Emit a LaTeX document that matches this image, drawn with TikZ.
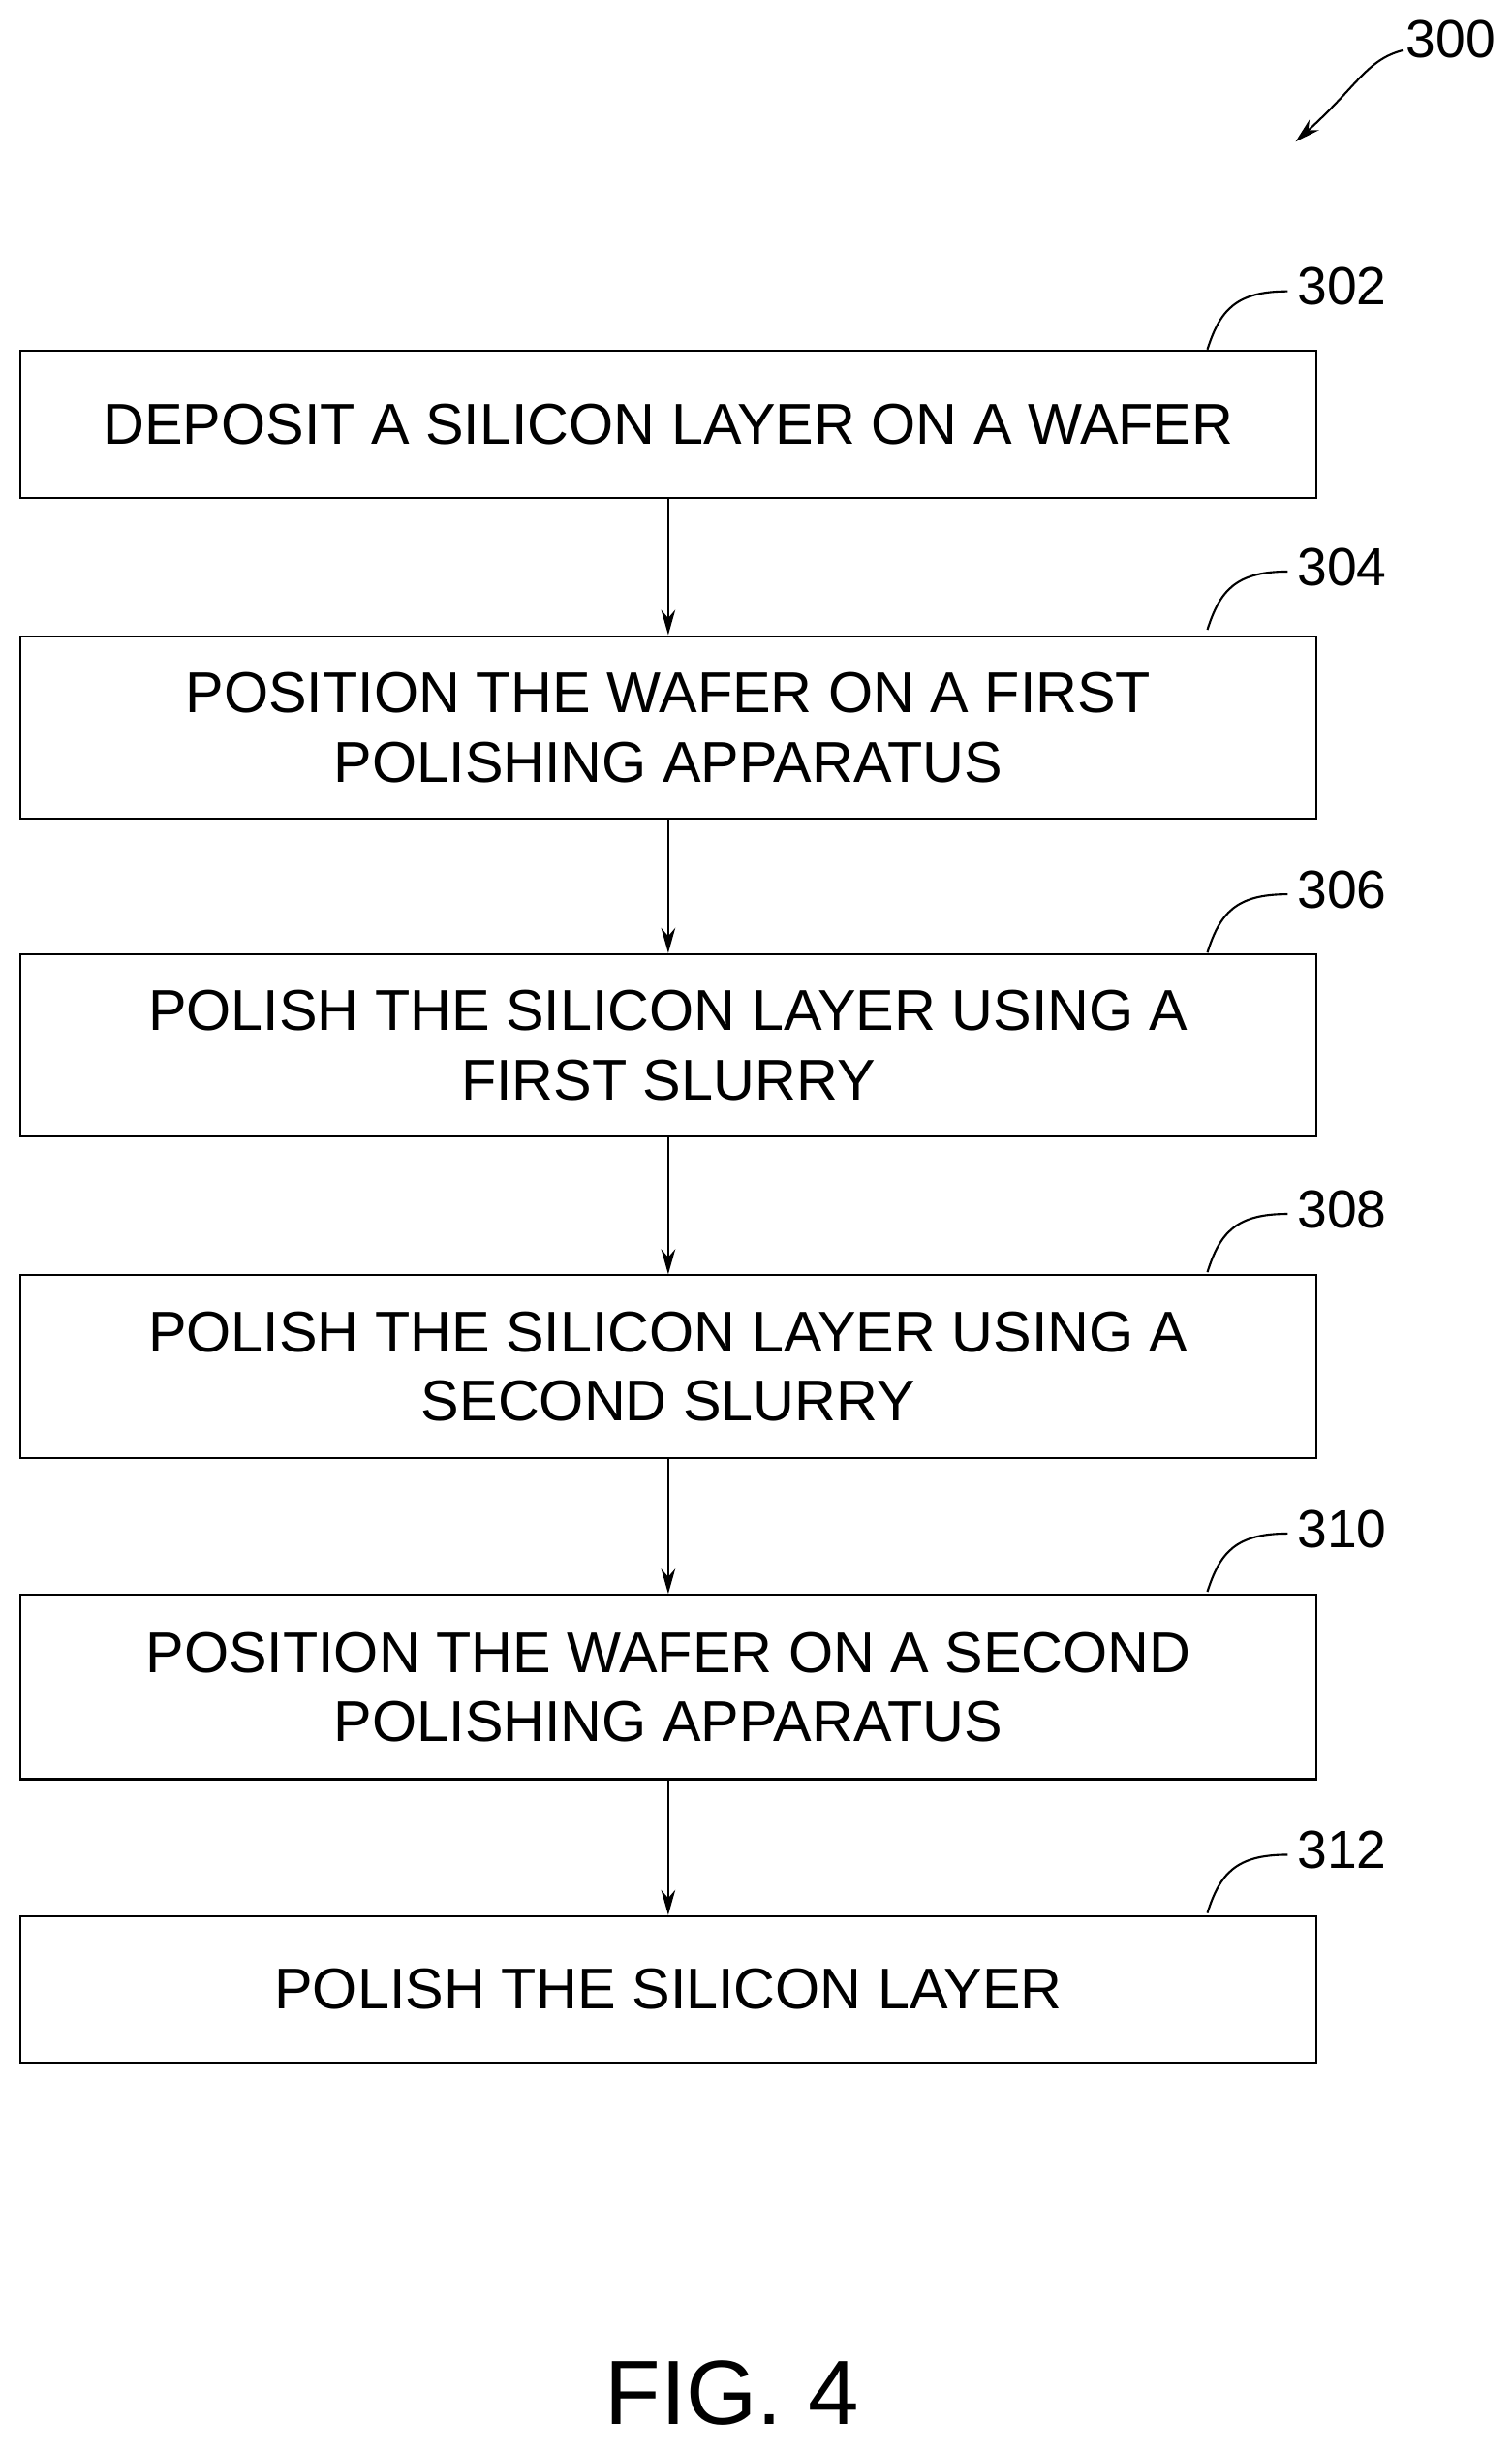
\documentclass[tikz,border=0pt]{standalone}
\usepackage{fontspec}
\setmainfont{Liberation Sans}
\usetikzlibrary{arrows.meta}
\begin{document}
\begin{tikzpicture}[x=1pt,y=-1pt,
  stepbox/.style={draw,line width=1.3pt,minimum width=823pt,align=center,font=\fontsize{36.5}{44}\selectfont,inner sep=0pt},
  flow/.style={line width=1.3pt,-{Stealth[length=16pt,width=9pt]}},
  lead/.style={line width=1.3pt},
  lbl/.style={font=\fontsize{34}{40}\selectfont,anchor=west,inner sep=0pt}]
\useasboundingbox (0,0) rectangle (960,1558);
\node[stepbox,minimum height=93pt] (b1) at (424.5,269.5) {DEPOSIT A SILICON LAYER ON A WAFER};
\node[stepbox,minimum height=116pt] (b2) at (424.5,462) {POSITION THE WAFER ON A FIRST\\POLISHING APPARATUS};
\node[stepbox,minimum height=116pt] (b3) at (424.5,664) {POLISH THE SILICON LAYER USING A\\FIRST SLURRY};
\node[stepbox,minimum height=116pt] (b4) at (424.5,868) {POLISH THE SILICON LAYER USING A\\SECOND SLURRY};
\node[stepbox,minimum height=117pt] (b5) at (424.5,1071.5) {POSITION THE WAFER ON A SECOND\\POLISHING APPARATUS};
\node[stepbox,minimum height=93pt] (b6) at (424.5,1263.5) {POLISH THE SILICON LAYER};
\foreach \a/\b in {b1/b2,b2/b3,b3/b4,b4/b5,b5/b6} \draw[flow] (\a) -- (\b);
\foreach \n/\t/\y in {b1/302/182,b2/304/360,b3/306/565,b4/308/768,b5/310/971,b6/312/1175}{
  \node[lbl] (l\n) at (824,\y) {\t};
  \coordinate (s\n) at (767,\y+40);
  \draw[lead] (s\n) .. controls (775,\y+15) and (785,\y+3) .. (818,\y+3);
}
\node[lbl] (l300) at (893,25) {300};
\coordinate (a300) at (823,90);
\draw[lead,-{Stealth[length=16pt,width=9pt]}] (891,32) .. controls (868,38) and (862,55) .. (a300);
\node[font=\fontsize{58}{60}\selectfont] (fig) at (465,1520) {FIG. 4};
\end{tikzpicture}
\end{document}
